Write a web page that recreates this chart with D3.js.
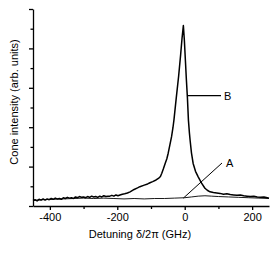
<!DOCTYPE html>
<html>
<head>
<meta charset="utf-8">
<script src="https://cdn.jsdelivr.net/npm/d3@7"></script>
<style>
  body { margin: 0; background: #fff; }
  svg text { font-family: "Liberation Sans", Arial, sans-serif; fill: #000; }
</style>
</head>
<body>
<svg id="svg" width="278" height="257"></svg>
<script>
// curve B (cone, strong signal)
const detuningB = [-450,-444,-438,-432,-426,-420,-414,-408,-402,-396,-390,-384,-378,-372,-366,-360,-354,-348,-342,-336,-330,-324,-318,-312,-306,-300,-294,-288,-282,-276,-270,-264,-258,-252,-246,-240,-234,-228,-222,-216,-210,-204,-198,-192,-185,-178,-170,-162,-150,-140,-133,-120,-110,-103,-95,-85,-78,-72,-68,-63,-58,-53,-49,-44,-39,-35,-32,-25,-18,-12,-8,-4,-1,2,5,8,11,14,16,20,25,32,40,50,60,67,75,85,95,105,115,125,135,145,155,165,175,185,195,205,215,225,235,245,250];
const intensityB = [0.14,0.16,0.13,0.17,0.15,0.18,0.15,0.18,0.16,0.19,0.17,0.2,0.18,0.19,0.17,0.21,0.19,0.22,0.2,0.21,0.19,0.23,0.21,0.24,0.22,0.23,0.21,0.24,0.22,0.25,0.23,0.24,0.22,0.25,0.23,0.26,0.24,0.25,0.25,0.27,0.25,0.28,0.26,0.28,0.3,0.31,0.33,0.36,0.42,0.46,0.49,0.53,0.56,0.59,0.62,0.66,0.7,0.75,0.83,0.95,1.08,1.2,1.34,1.55,1.76,1.98,2.18,2.75,3.3,3.85,4.25,4.58,4.2,3.7,3.2,2.75,2.18,1.85,1.67,1.35,1.08,0.88,0.74,0.58,0.45,0.4,0.36,0.34,0.33,0.32,0.3,0.31,0.29,0.28,0.27,0.28,0.26,0.25,0.24,0.25,0.23,0.22,0.23,0.21,0.2];

// curve A (weak signal)
const detuningA = [-450,-420,-390,-360,-330,-300,-270,-240,-210,-180,-150,-120,-90,-60,-30,0,20,40,60,80,100,130,160,190,220,250];
const intensityA = [0.14,0.16,0.17,0.18,0.19,0.2,0.19,0.2,0.19,0.18,0.19,0.18,0.19,0.19,0.2,0.21,0.23,0.25,0.26,0.25,0.24,0.23,0.22,0.21,0.2,0.19];

const xMajor = [-400, -200, 0, 200];
const xMinor = [-300, -100, 100];
const yMajor = [0, 1, 2, 3, 4, 5];
const yMinor = [0.5, 1.5, 2.5, 3.5, 4.5];

const svg = d3.select('#svg');
const x = d3.scaleLinear().domain([-450, 250]).range([33, 269]);
const y = d3.scaleLinear().domain([0, 5]).range([206, 9]);

// y axis
svg.append('g').attr('transform', 'translate(33,0)')
  .call(d3.axisLeft(y).tickValues(yMajor).tickSize(4).tickSizeOuter(0).tickFormat(''))
  .call(g => g.selectAll('line,path').attr('stroke', '#000').attr('stroke-width', 1.3));
svg.append('g').attr('transform', 'translate(33,0)')
  .call(d3.axisLeft(y).tickValues(yMinor).tickSize(2.5).tickSizeOuter(0).tickFormat(''))
  .call(g => g.select('.domain').remove())
  .call(g => g.selectAll('line').attr('stroke', '#000').attr('stroke-width', 1.3));

// x axis
svg.append('g').attr('transform', 'translate(0,206)')
  .call(d3.axisBottom(x).tickValues(xMajor).tickSize(4).tickSizeOuter(0).tickPadding(3).tickFormat(d => String(d)))
  .call(g => g.selectAll('line,path').attr('stroke', '#000').attr('stroke-width', 1.3))
  .call(g => g.selectAll('text').attr('font-size', 11).attr('font-family', '"Liberation Sans", Arial, sans-serif'));
svg.append('g').attr('transform', 'translate(0,206)')
  .call(d3.axisBottom(x).tickValues(xMinor).tickSize(3).tickSizeOuter(0).tickFormat(''))
  .call(g => g.select('.domain').remove())
  .call(g => g.selectAll('line').attr('stroke', '#000').attr('stroke-width', 1.3));

svg.append('text').attr('x', 140).attr('y', 238).attr('text-anchor', 'middle')
  .attr('font-size', 11).text('Detuning δ/2π (GHz)');
svg.append('text').attr('transform', 'translate(18,102) rotate(-90)').attr('text-anchor', 'middle')
  .attr('font-size', 11).text('Cone intensity (arb. units)');

const line = d3.line().x(d => x(d[0])).y(d => y(d[1]));

svg.append('path').datum(d3.zip(detuningA, intensityA))
  .attr('d', line).attr('fill', 'none').attr('stroke', '#000').attr('stroke-width', 0.9);
svg.append('path').datum(d3.zip(detuningB, intensityB))
  .attr('d', line).attr('fill', 'none').attr('stroke', '#000').attr('stroke-width', 1.5)
  .attr('stroke-linejoin', 'round');

// labels
svg.append('line').attr('x1', x(8)).attr('y1', y(2.8)).attr('x2', 221).attr('y2', y(2.8))
  .attr('stroke', '#000').attr('stroke-width', 1.2);
svg.append('text').attr('x', 224).attr('y', y(2.8) + 4).attr('font-size', 11).text('B');
svg.append('line').attr('x1', x(-4)).attr('y1', y(0.2)).attr('x2', 222).attr('y2', 163)
  .attr('stroke', '#000').attr('stroke-width', 1);
svg.append('text').attr('x', 226).attr('y', 167).attr('font-size', 11).text('A');
</script>
</body>
</html>
